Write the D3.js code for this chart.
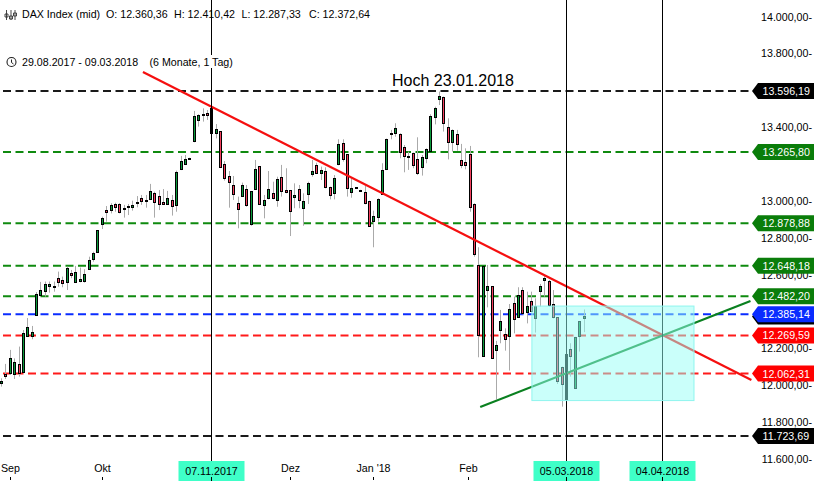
<!DOCTYPE html>
<html><head><meta charset="utf-8">
<style>html,body{margin:0;padding:0;background:#fff;overflow:hidden}svg{display:block}text{font-family:"Liberation Sans",Arial,sans-serif;font-size:10.67px;fill:#000}</style>
<script src="https://cdn.jsdelivr.net/npm/d3@7"></script>
</head><body><svg id="c" width="814" height="483"></svg>
<script>
const opens=[12008,12062,12062,12059,12113,12068,12263,12265,12377,12489,
12507,12534,12536,12580,12569,12556,12607,12556,12562,12562,
12627,12685,12719,12871,12949,12947,12981,12981,12960,12972,
12963,12990,13014,13003,13007,13041,13025,12992,12983,13003,
12974,13169,13202,13230,13321,13435,13470,13475,13502,13365,
13377,13198,13133,13084,12987,13023,13063,12873,13061,13187,
12974,13012,13041,13001,13131,13057,13057,13017,13063,12958,
13036,13142,13193,13149,13160,13073,13041,13196,13312,13253,
13046,13073,13059,13046,12998,12889,12909,13036,13171,13367,
13367,13361,13291,13242,13258,13225,13182,13231,13267,13453,
13551,13562,13399,13318,13361,13220,13209,13253,12981,12650,
12156,12515,12536,12189,12297,12275,12265,12444,12368,12515,
12395,12455,12362,12509,12569,12563,12438,12368,12097,11925,
12194,11983,12265,12360.36];
const closes=[12021,12051,12145,12124,12066,12281,12314,12287,12493,12515,
12547,12547,12529,12556,12551,12634,12594,12612,12574,12601,
12677,12715,12840,12905,12936,12976,12963,12936,12952,12968,
12976,12994,12996,12996,13052,12990,12979,12979,13014,12968,
13155,13215,13227,13232,13459,13464,13464,13462,13365,13388,
13180,13120,13099,13034,12954,13084,12974,13052,13171,12981,
13003,13063,13012,13117,13057,13045,12941,13030,13003,12998,
13095,13160,13149,13166,13073,13028,13122,13307,13225,13068,
13068,13072,13057,12985,12862,12916,13008,13166,13334,13365,
13394,13262,13242,13236,13193,13149,13236,13280,13459,13502,
13567,13421,13318,13383,13307,13191,13191,12965,12710,12268,
12645,12536,12145,12216,12346,12248,12411,12357,12487,12390,
12428,12401,12428,12536,12580,12433,12368,12019,12004,12167,
12156,12259,12346,12372.64];
const highs=[12037,12115,12191,12145,12209,12299,12364,12321,12505,12560,
12562,12562,12562,12616,12589,12643,12625,12647,12638,12629,
12697,12724,12840,12914,12972,12987,12990,12987,12978,12983,
13001,13026,13032,13032,13092,13050,13059,13064,13054,13032,
13164,13244,13249,13234,13488,13470,13502,13493,13515,13417,
13377,13216,13162,13135,13023,13099,13086,13052,13222,13187,
13032,13162,13104,13131,13195,13177,13057,13095,13086,13041,
13104,13222,13207,13186,13182,13077,13140,13334,13334,13253,
13122,13074,13060,13081,13001,12947,13014,13204,13338,13385,
13421,13367,13303,13267,13262,13345,13249,13285,13470,13511,
13593,13566,13448,13388,13385,13309,13285,13298,12987,12748,
12645,12652,12536,12240,12408,12308,12440,12480,12531,12531,
12507,12507,12471,12549,12598,12571,12516,12368,12100,12167,
12227,12262,12346,12410.42];
const lows=[11992,12033,12055,12033,12046,12064,12263,12249,12377,12484,
12480,12502,12507,12534,12531,12516,12580,12556,12558,12556,
12625,12670,12719,12847,12887,12932,12941,12932,12909,12923,
12947,12965,12978,12963,13005,12909,12950,12978,12978,12920,
12941,13167,13195,13228,13318,13403,13430,13439,13362,13339,
13180,13110,12963,13005,12851,13023,12968,12865,13059,12978,
12905,13008,13008,12968,13023,13041,12809,12960,12960,12865,
12983,13131,13146,13113,13068,13008,13008,13193,13213,13023,
13017,13071,13056,12981,12860,12748,12887,13032,13167,13334,
13348,13231,13155,13168,13177,13140,13137,13204,13265,13415,
13520,13376,13225,13267,13272,13177,13171,12941,12697,12151,
12154,12422,12145,11923,12227,12187,12079,12281,12368,12384,
12335,12399,12285,12426,12480,12426,12362,12006,11883,11910,
12046,11983,12182,12287.33];

const levelValues=[13596.19,13265.80,12878.88,12648.18,12482.20,12385.14,12269.59,12062.31,11723.69];
const levelKinds=["black","green","green","green","green","blue","red","red","black"];
const priceTicks=[14000,13800,13400,13000,12800,12600,12200,12000,11800,11600];
const monthLabels=["Sep","Okt","Dez","Jan '18","Feb"];
const monthIndex=[2,23,66,85,106.7];
const markerLabels=["07.11.2017","05.03.2018","04.04.2018"];
const markerIndex=[48,129,151];
const currentPrice=12372.64;
const downTrend=[[32.4,13699],[171.3,12028]];
const upTrend=[[109.4,11881],[171.1,12456]];
const zone={from:121.2,to:158.2,top:12429,bottom:11916};

const kindColor={black:"#000000",green:"#0a7d0a",blue:"#0a2cff",red:"#ff0000"};
const kindLine={black:"#1a1a1a",green:"#0f8a0f",blue:"#0a2cff",red:"#ff1a1a"};
const x=d3.scaleLinear().domain([0,133]).range([1,583.6]);
const y=d3.scaleLinear().domain([12000,14000]).range([385.1,16.6]);
const fmt=v=>d3.format(",.2f")(v).replace(/,/g,"#").replace(".",",").replace(/#/g,".");
const svg=d3.select("#c");
const line=d3.line().x(d=>x(d[0])).y(d=>y(d[1]));
const px=i=>Math.round(x(i))+0.5;

// price levels
svg.append("g").selectAll("line").data(levelValues).join("line")
 .attr("x1",3).attr("x2",752).attr("y1",d=>y(d)).attr("y2",d=>y(d))
 .attr("stroke",(d,i)=>kindLine[levelKinds[i]]).attr("stroke-width",2).attr("stroke-dasharray","8 4.5");

// candles
const idx=d3.range(opens.length);
svg.append("g").selectAll("line").data(idx).join("line")
 .attr("x1",px).attr("x2",px).attr("y1",i=>y(highs[i])).attr("y2",i=>y(lows[i]))
 .attr("stroke","#aaaaaa").attr("stroke-width",1);
svg.append("g").selectAll("rect").data(idx).join("rect")
 .attr("x",i=>px(i)-1).attr("width",2)
 .attr("y",i=>Math.round(y(Math.max(opens[i],closes[i])))+0.5)
 .attr("height",i=>Math.max(1,Math.round(Math.abs(y(opens[i])-y(closes[i])))))
 .attr("fill",i=>closes[i]>=opens[i]?"#0a9a3c":"#f5405f")
 .attr("stroke","#000").attr("stroke-width",1);

// trend lines
svg.append("path").attr("d",line(downTrend)).attr("fill","none").attr("stroke","#f50f0f").attr("stroke-width",2.2);
svg.append("path").attr("d",line(upTrend)).attr("fill","none").attr("stroke","#0a8020").attr("stroke-width",2.2);

// vertical markers
svg.append("g").selectAll("line").data(markerIndex).join("line")
 .attr("x1",px).attr("x2",px).attr("y1",0).attr("y2",461).attr("stroke","#000").attr("stroke-width",1);

// zone
svg.append("rect").attr("x",x(zone.from)).attr("width",x(zone.to)-x(zone.from))
 .attr("y",y(zone.top)).attr("height",y(zone.bottom)-y(zone.top))
 .attr("fill","rgba(150,255,245,0.5)").attr("stroke","#8ff5ee").attr("stroke-width",1);

// header
const head=svg.append("g");
head.append("rect").attr("x",3).attr("y",55).attr("width",235).attr("height",13).attr("fill","#fff");
head.append("text").attr("x",22).attr("y",18).text("DAX Index (mid)");
head.append("text").attr("x",106).attr("y",18).text("O: 12.360,36");
head.append("text").attr("x",174).attr("y",18).text("H: 12.410,42");
head.append("text").attr("x",241.5).attr("y",18).text("L: 12.287,33");
head.append("text").attr("x",309).attr("y",18).text("C: 12.372,64");
head.append("text").attr("x",22).attr("y",66).text("29.08.2017 - 09.03.2018");
head.append("text").attr("x",149.5).attr("y",66).text("(6 Monate, 1 Tag)");
head.append("circle").attr("cx",11.5).attr("cy",62).attr("r",4.5).attr("fill","none").attr("stroke","#222").attr("stroke-width",1.1);
head.append("path").attr("d","M11.5 59.5V62.5L13.5 64").attr("fill","none").attr("stroke","#222");
head.append("path").attr("d","M6.5 10V20M11 10V20M15 10V20M5 14h3v3h-3zM9.5 16h3v3h-3zM13.5 13h3v3h-3z").attr("fill","#fff").attr("stroke","#333").attr("stroke-width",0.9);
svg.append("text").attr("x",392).attr("y",86).style("font-size","16px").text("Hoch 23.01.2018");

// price axis
svg.append("g").selectAll("text").data(priceTicks).join("text")
 .attr("x",812).attr("y",d=>y(d)+4).attr("text-anchor","end").text(d=>fmt(d)+"-");

// flags
const flag=(v)=>{const p=d3.path(),c=y(v);p.moveTo(752,c);p.lineTo(758,c-8);p.lineTo(814,c-8);p.lineTo(814,c+8);p.lineTo(758,c+8);p.closePath();return p.toString();};
svg.append("path").attr("d",flag(currentPrice)).attr("fill","#000");
const flags=svg.append("g").selectAll("g").data(levelValues).join("g");
flags.append("path").attr("d",d=>flag(d)).attr("fill",(d,i)=>kindColor[levelKinds[i]]);
flags.append("text").attr("x",762.5).attr("y",d=>y(d)+4).style("fill","#fff").text(d=>fmt(d));

// time axis
const months=svg.append("g").selectAll("g").data(monthLabels).join("g");
months.append("text").attr("x",(d,i)=>px(monthIndex[i])).attr("y",472).attr("text-anchor","middle").text(d=>d);
months.append("line").attr("x1",(d,i)=>px(monthIndex[i])).attr("x2",(d,i)=>px(monthIndex[i])).attr("y1",477).attr("y2",480).attr("stroke","#000");
const marks=svg.append("g").selectAll("g").data(markerLabels).join("g");
marks.append("rect").attr("x",(d,i)=>px(markerIndex[i])-33).attr("width",66).attr("y",461).attr("height",20).attr("fill","#3fffc8");
marks.append("text").attr("x",(d,i)=>px(markerIndex[i])).attr("y",475).attr("text-anchor","middle").text(d=>d);
marks.append("line").attr("x1",(d,i)=>px(markerIndex[i])).attr("x2",(d,i)=>px(markerIndex[i])).attr("y1",477).attr("y2",481).attr("stroke","#000");
</script></body></html>
